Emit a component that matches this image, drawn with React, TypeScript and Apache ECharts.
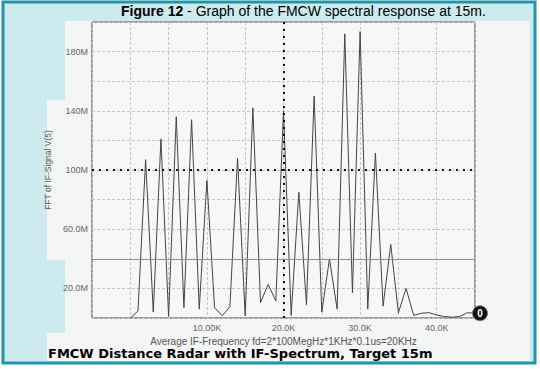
import React, { useEffect, useRef } from "react";
import * as echarts from "echarts";

// Frequency (kHz) and FFT magnitude (M)
const freqK = [0, 1, 2, 3, 4, 5, 6, 7, 8, 9, 10, 11, 12, 13, 14, 15, 16, 17, 18, 19, 20, 21, 22, 23, 24, 25, 26, 27, 28, 29, 30, 31, 32, 33, 34, 35, 36, 37, 38, 39, 40, 41, 42, 43, 44, 45];
const fftM = [0, 4.7, 107, 4, 121, 1, 136, 7, 134, 6, 93, 7, 1.5, 7.5, 108, 1.3, 142, 10.4, 22.7, 11.5, 140, 1.8, 85, 9, 150, 4, 40, 6, 192, 17, 193.5, 6, 111.5, 8, 49.7, 3.5, 20, 1.8, 3.2, 3.6, 2, 1, 0.5, 1, 3.6, 3.2];

const xTickValues = [10, 20, 30, 40];
const xTickLabels = ["10.00K", "20.0K", "30.0K", "40.0K"];
const yTickValues = [20, 60, 100, 140, 180];
const yTickLabels = ["20.0M", "60.0M", "100M", "140M", "180M"];

const cursorX = 20;
const cursorY = 100;
const refLineY = 40;
const endMarkerLabel = "0";

const titleBold = "Figure 12";
const titleRest = " - Graph of the FMCW spectral response at 15m.";
const xAxisTitle = "Average IF-Frequency fd=2*100MegHz*1KHz*0.1us=20KHz";
const yAxisTitle = "FFT of IF-Signal V(5)";
const caption = "FMCW Distance Radar with IF-Spectrum, Target 15m";

export default function App() {
  const ref = useRef<HTMLDivElement>(null);
  useEffect(() => {
    if (!ref.current) return;
    const chart = echarts.init(ref.current, null, { renderer: "svg" });
    const cyan = "#cdeaee";
    const panel = "#f4f5f5";
    const data = freqK.map((x, i) => [x, fftM[i]]);
    const last = data[data.length - 1];
    chart.setOption({
      animation: false,
      backgroundColor: "#ffffff",
      graphic: [
        { type: "rect", z: -10, shape: { x: 3, y: 2, width: 532, height: 361 }, style: { fill: cyan, stroke: "#2196a8", lineWidth: 3 } },
        { type: "rect", z: -9, shape: { x: 65, y: 21, width: 465, height: 340 }, style: { fill: panel } },
        { type: "rect", z: -9, shape: { x: 47, y: 100, width: 20, height: 160 }, style: { fill: panel } },
        { type: "rect", z: -9, shape: { x: 47, y: 333, width: 20, height: 28 }, style: { fill: panel } },
        {
          type: "text", x: 121, y: 4, z: 10,
          style: {
            text: `{b|${titleBold}}{r|${titleRest}}`,
            rich: {
              b: { fontFamily: "Liberation Sans", fontSize: 14, fontWeight: "bold", fill: "#000" },
              r: { fontFamily: "Liberation Sans", fontSize: 14, fill: "#000" },
            },
          },
        },
        {
          type: "text", x: 48, y: 347, z: 10,
          style: { text: caption, fontFamily: "DejaVu Sans", fontSize: 13, fontWeight: "bold", fill: "#000" },
        },
      ],
      grid: { left: 92, top: 22, right: 65, bottom: 51, show: true, backgroundColor: "#f7f7f7", borderColor: "#444", borderWidth: 1 },
      xAxis: {
        type: "value", min: -5, max: 45, interval: 5,
        axisLine: { show: false }, axisTick: { show: false },
        splitLine: { show: true, lineStyle: { color: "#c6c6c6", type: [3, 2], width: 1 } },
        axisLabel: {
          fontFamily: "Liberation Sans", fontSize: 9, color: "#666", margin: 5,
          formatter: (v: number) => { const i = xTickValues.indexOf(v); return i >= 0 ? xTickLabels[i] : ""; },
        },
        name: xAxisTitle, nameLocation: "middle", nameGap: 11,
        nameTextStyle: { fontFamily: "Liberation Sans", fontSize: 10, color: "#555", lineHeight: 10 },
      },
      yAxis: {
        type: "value", min: 0, max: 200, interval: 20,
        axisLine: { show: false }, axisTick: { show: false },
        splitLine: { show: true, lineStyle: { color: "#c6c6c6", type: [3, 2], width: 1 } },
        axisLabel: {
          fontFamily: "Liberation Sans", fontSize: 9, color: "#666", margin: 4,
          formatter: (v: number) => { const i = yTickValues.indexOf(v); return i >= 0 ? yTickLabels[i] : ""; },
        },
        name: yAxisTitle, nameLocation: "middle", nameGap: 33, nameRotate: 90,
        nameTextStyle: { fontFamily: "Liberation Sans", fontSize: 8.5, color: "#555" },
      },
      series: [
        {
          type: "line", data, symbol: "none",
          lineStyle: { color: "#444", width: 1 },
          markLine: {
            silent: true, symbol: "none", label: { show: false },
            data: [
              { yAxis: refLineY, lineStyle: { color: "#8e8e8e", type: "solid", width: 1 } },
              { yAxis: cursorY, lineStyle: { color: "#111", type: [2, 5], width: 2 } },
              { xAxis: cursorX, lineStyle: { color: "#111", type: [2, 5], width: 2 } },
            ],
          },
          markPoint: {
            silent: true,
            data: [{ coord: last, symbol: "circle", symbolSize: 15, symbolOffset: [5, 0], itemStyle: { color: "#111", borderColor: "#777", borderWidth: 1 } }],
            label: { show: true, formatter: endMarkerLabel, color: "#fff", fontSize: 10, fontWeight: "bold", fontFamily: "Liberation Sans" },
          },
        },
      ],
    });
    return () => chart.dispose();
  }, []);
  return <div ref={ref} style={{ position: "fixed", left: 0, top: 0, width: 540, height: 369 }} />;
}
